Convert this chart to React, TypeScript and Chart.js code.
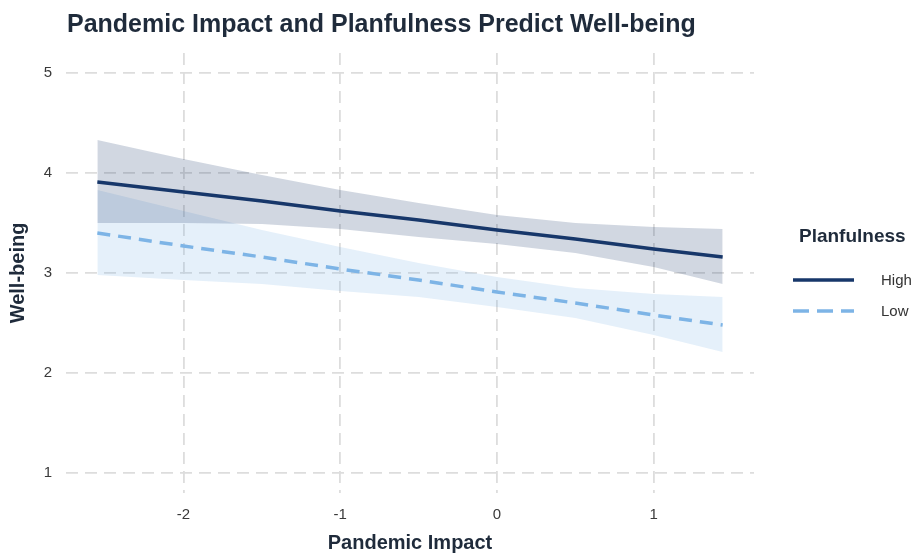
import React, { useEffect, useRef } from "react";
import { Chart, registerables } from "chart.js";

Chart.register(...registerables);

const TITLE = "Pandemic Impact and Planfulness Predict Well-being";
const X_TITLE = "Pandemic Impact";
const Y_TITLE = "Well-being";
const LEGEND_TITLE = "Planfulness";
const GROUPS = ["High", "Low"];

const xValues = [-2.55, -2, -1.5, -1, -0.5, 0, 0.5, 1, 1.44];
const highFit = [3.91, 3.81, 3.72, 3.62, 3.53, 3.43, 3.34, 3.24, 3.16];
const highUpper = [4.33, 4.14, 3.98, 3.83, 3.7, 3.58, 3.5, 3.46, 3.44];
const highLower = [3.5, 3.5, 3.49, 3.44, 3.36, 3.29, 3.2, 3.06, 2.89];
const lowFit = [3.4, 3.27, 3.16, 3.04, 2.93, 2.81, 2.7, 2.58, 2.48];
const lowUpper = [3.83, 3.62, 3.43, 3.26, 3.1, 2.96, 2.85, 2.79, 2.76];
const lowLower = [2.98, 2.93, 2.89, 2.82, 2.76, 2.66, 2.55, 2.38, 2.21];

const xTicks = [-2, -1, 0, 1];
const yTicks = [1, 2, 3, 4, 5];

const FONT = "'Liberation Sans', Arial, Helvetica, sans-serif";
const HIGH_COLOR = "#17376a";
const LOW_COLOR = "#7db4e6";
const TEXT_DARK = "#1f2b3b";

const pts = (ys: number[]) => xValues.map((x, i) => ({ x, y: ys[i] }));

const overlayPlugin = {
  id: "overlay",
  afterDraw(chart: any) {
    const ctx = chart.ctx;
    ctx.save();
    // title
    ctx.fillStyle = TEXT_DARK;
    ctx.font = `bold 25px ${FONT}`;
    ctx.textAlign = "left";
    ctx.textBaseline = "middle";
    ctx.fillText(TITLE, 67, 25);
    // legend title
    ctx.font = `bold 19px ${FONT}`;
    ctx.fillText(LEGEND_TITLE, 799, 237);
    // legend items
    const items = [
      { label: GROUPS[0], color: HIGH_COLOR, dash: [] as number[], y: 280 },
      { label: GROUPS[1], color: LOW_COLOR, dash: [16, 8], y: 311 },
    ];
    items.forEach((it) => {
      ctx.beginPath();
      ctx.setLineDash(it.dash);
      ctx.strokeStyle = it.color;
      ctx.lineWidth = 3.5;
      ctx.lineCap = "butt";
      ctx.moveTo(793, it.y);
      ctx.lineTo(854, it.y);
      ctx.stroke();
      ctx.setLineDash([]);
      ctx.fillStyle = "#333333";
      ctx.font = `15px ${FONT}`;
      ctx.fillText(it.label, 881, it.y + 1);
    });
    ctx.restore();
  },
};

export default function App() {
  const canvasRef = useRef<HTMLCanvasElement | null>(null);

  useEffect(() => {
    if (!canvasRef.current) return;
    const chart = new Chart(canvasRef.current, {
      type: "line",
      data: {
        datasets: [
          {
            label: GROUPS[0],
            data: pts(highFit),
            borderColor: HIGH_COLOR,
            borderWidth: 3.5,
            pointRadius: 0,
            fill: false,
            order: 0,
          },
          {
            label: GROUPS[1],
            data: pts(lowFit),
            borderColor: LOW_COLOR,
            borderWidth: 3.5,
            borderDash: [13, 8],
            pointRadius: 0,
            fill: false,
            order: 1,
          },
          {
            label: "High upper",
            data: pts(highUpper),
            borderColor: "rgba(0,0,0,0)",
            borderWidth: 0,
            pointRadius: 0,
            backgroundColor: "rgba(23,55,106,0.2)",
            fill: "+1",
            order: 2,
          },
          {
            label: "High lower",
            data: pts(highLower),
            borderColor: "rgba(0,0,0,0)",
            borderWidth: 0,
            pointRadius: 0,
            fill: false,
            order: 3,
          },
          {
            label: "Low upper",
            data: pts(lowUpper),
            borderColor: "rgba(0,0,0,0)",
            borderWidth: 0,
            pointRadius: 0,
            backgroundColor: "rgba(125,180,230,0.2)",
            fill: "+1",
            order: 4,
          },
          {
            label: "Low lower",
            data: pts(lowLower),
            borderColor: "rgba(0,0,0,0)",
            borderWidth: 0,
            pointRadius: 0,
            fill: false,
            order: 5,
          },
        ] as any,
      },
      options: {
        responsive: false,
        animation: false,
        devicePixelRatio: 1,
        events: [],
        layout: { padding: { top: 53, right: 161, left: 0, bottom: 0 } },
        plugins: {
          legend: { display: false },
          tooltip: { enabled: false },
          title: { display: false },
        },
        scales: {
          x: {
            type: "linear",
            min: -2.75,
            max: 1.64,
            afterBuildTicks: (s: any) => {
              s.ticks = xTicks.map((v) => ({ value: v }));
            },
            afterFit: (s: any) => {
              s.height = 63;
            },
            grid: { color: "#dddddd", lineWidth: 1.8, drawTicks: false },
            border: { display: false, dash: [12, 7] },
            ticks: {
              padding: 13,
              color: "#3a3a3a",
              font: { family: FONT, size: 15 },
              callback: (v: any) => String(v),
            },
            title: {
              display: true,
              text: X_TITLE,
              color: TEXT_DARK,
              font: { family: FONT, size: 20, weight: "bold" },
              padding: { top: 0, bottom: 1 },
            },
          },
          y: {
            type: "linear",
            min: 0.8,
            max: 5.2,
            afterBuildTicks: (s: any) => {
              s.ticks = yTicks.map((v) => ({ value: v }));
            },
            afterFit: (s: any) => {
              s.width = 66;
            },
            grid: { color: "#dddddd", lineWidth: 1.8, drawTicks: false },
            border: { display: false, dash: [12, 7] },
            ticks: {
              padding: 14,
              color: "#3a3a3a",
              font: { family: FONT, size: 15 },
              callback: (v: any) => String(v),
            },
            title: {
              display: true,
              text: Y_TITLE,
              color: TEXT_DARK,
              font: { family: FONT, size: 20, weight: "bold" },
              padding: { top: 6, bottom: 0 },
            },
          },
        },
      } as any,
      plugins: [overlayPlugin],
    });
    return () => chart.destroy();
  }, []);

  return (
    <div style={{ position: "absolute", left: 0, top: 0, width: 915, height: 556, background: "#ffffff" }}>
      <canvas ref={canvasRef} width={915} height={556} style={{ width: 915, height: 556, display: "block" }} />
    </div>
  );
}
